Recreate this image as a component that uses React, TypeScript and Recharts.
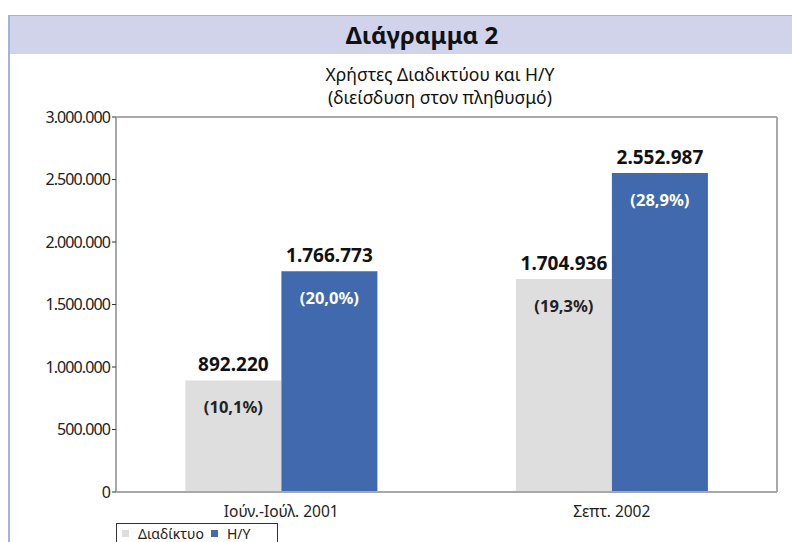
import { BarChart, Bar, XAxis, YAxis, CartesianGrid, Legend, LabelList, ReferenceLine } from "recharts";

const categories = ["Ιούν.-Ιούλ. 2001", "Σεπτ. 2002"];
const internetUsers = [892220, 1704936];
const pcUsers = [1766773, 2552987];
const internetPct = ["(10,1%)", "(19,3%)"];
const pcPct = ["(20,0%)", "(28,9%)"];
const yTicks = [0, 500000, 1000000, 1500000, 2000000, 2500000, 3000000];

const SERIES = [
  { key: "internet", name: "Διαδίκτυο", color: "#dedede", pctColor: "#222" },
  { key: "pc", name: "Η/Υ", color: "#4169ae", pctColor: "#fff" },
];

const data = categories.map((c, i) => ({
  period: c,
  internet: internetUsers[i],
  pc: pcUsers[i],
  internetPct: internetPct[i],
  pcPct: pcPct[i],
}));

const FONT = "'Noto Sans', 'DejaVu Sans', sans-serif";
const dots = (v: number) => String(v).replace(/\B(?=(\d{3})+(?!\d))/g, ".");

function LegendBox() {
  return (
    <div style={{ border: "1px solid #333", height: 20, boxSizing: "border-box", display: "flex", alignItems: "center", fontFamily: FONT, fontSize: 14, color: "#222", paddingLeft: 5, background: "#fff" }}>
      {SERIES.map((s) => (
        <span key={s.key} style={{ display: "flex", alignItems: "center", marginRight: 7 }}>
          <span style={{ width: 7, height: 7, background: s.color, marginRight: 9, display: "inline-block" }} />
          {s.name}
        </span>
      ))}
    </div>
  );
}

const titleLine = { position: "absolute" as const, left: 240, width: 400, height: 20, textAlign: "center" as const, fontSize: 17.5, lineHeight: "20px", color: "#111" };

export default function App() {
  return (
    <div style={{ position: "absolute", left: 0, top: 0, width: 792, height: 542, overflow: "hidden", background: "#fff", fontFamily: FONT }}>
      <div style={{ position: "absolute", left: 8, top: 15, width: 800, height: 600, borderLeft: "2px solid #a6b1de", borderTop: "1px solid #a6b1de" }} />
      <div style={{ position: "absolute", left: 10, top: 16, width: 800, height: 38, background: "#d0d3ea" }} />
      <div style={{ position: "absolute", left: 322, top: 16, width: 200, height: 38, lineHeight: "38px", textAlign: "center", fontSize: 24, fontWeight: 700, color: "#111" }}>
        Διάγραμμα 2
      </div>
      <div style={{ ...titleLine, top: 64 }}>Χρήστες Διαδικτύου και Η/Υ</div>
      <div style={{ ...titleLine, top: 87 }}>(διείσδυση στον πληθυσμό)</div>
      <div style={{ position: "absolute", left: 0, top: 0 }}>
        <BarChart width={792} height={542} data={data} margin={{ top: 117, right: 14, left: 8, bottom: 0 }} barCategoryGap="21%" barGap={0}>
          <CartesianGrid horizontal vertical={false} stroke="#3a3a3a" strokeWidth={1.3} />
          <ReferenceLine yAxisId="left" y={3000000} stroke="#a8a8a8" strokeWidth={2} />
          <XAxis
            dataKey="period"
            height={30}
            tickLine={false}
            axisLine={{ stroke: "#a8a8a8", strokeWidth: 2 }}
            tick={{ fill: "#222", fontSize: 15.5, fontFamily: FONT }}
            tickMargin={8}
          />
          <YAxis
            yAxisId="left"
            width={108}
            domain={[0, 3000000]}
            ticks={yTicks}
            tickFormatter={dots}
            axisLine={{ stroke: "#a8a8a8", strokeWidth: 2 }}
            tickLine={{ stroke: "#333" }}
            tickSize={4}
            tickMargin={2}
            tick={{ fill: "#222", fontSize: 16, fontFamily: FONT, letterSpacing: -0.9 }}
            interval={0}
          />
          <YAxis yAxisId="right" orientation="right" width={1} domain={[0, 3000000]} tick={false} tickLine={false} axisLine={{ stroke: "#a8a8a8", strokeWidth: 2 }} />
          <Legend
            verticalAlign="bottom"
            height={20}
            content={() => <LegendBox />}
            wrapperStyle={{ position: "absolute", left: 116, top: 523, width: 162, height: 20 }}
          />
          {SERIES.map((s) => (
            <Bar key={s.key} yAxisId="left" dataKey={s.key} name={s.name} fill={s.color} isAnimationActive={false}>
              <LabelList dataKey={s.key} position="top" offset={9} formatter={(v: any) => dots(Number(v))} style={{ fill: "#111", fontSize: 19, fontWeight: 700, fontFamily: FONT }} />
              <LabelList dataKey={s.key + "Pct"} position="insideTop" offset={21} style={{ fill: s.pctColor, fontSize: 16.5, fontWeight: 700, fontFamily: FONT }} />
            </Bar>
          ))}
        </BarChart>
      </div>
    </div>
  );
}
